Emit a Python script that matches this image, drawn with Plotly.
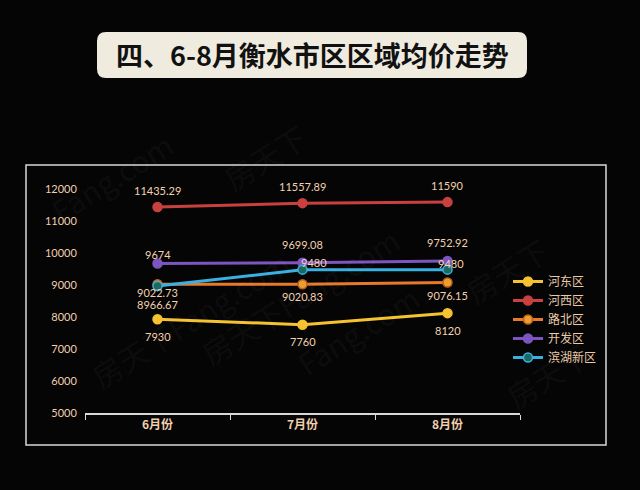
import plotly.graph_objects as go

months = ["6月份", "7月份", "8月份"]
series_names = ["河东区", "河西区", "路北区", "开发区", "滨湖新区"]
hedong = [7930, 7760, 8120]
hexi = [11435.29, 11557.89, 11590]
lubei = [9022.73, 9020.83, 9076.15]
kaifa = [9674, 9699.08, 9752.92]
binhu = [8966.67, 9480, 9480]
label_texts = {
    "河东区": ["7930", "7760", "8120"],
    "河西区": ["11435.29", "11557.89", "11590"],
    "路北区": ["9022.73", "9020.83", "9076.15"],
    "开发区": ["9674", "9699.08", "9752.92"],
    "滨湖新区": ["8966.67", "9480", "9480"],
}
y_ticks = [5000, 6000, 7000, 8000, 9000, 10000, 11000, 12000]
y_tick_text = ["5000", "6000", "7000", "8000", "9000", "10000", "11000", "12000"]

values = [hedong, hexi, lubei, kaifa, binhu]
line_colors = ["#f6c230", "#c8413f", "#e8792a", "#7d55c0", "#39afe2"]
marker_fill = ["#f6c230", "#c8413f", "#e8a030", "#7d55c0", "#1d6a5c"]
marker_line = ["#f6c230", "#c8413f", "#c25e18", "#7d55c0", "#39afe2"]
# label offsets (pixels) per series/point: (xshift, yshift)
offsets = [
    [(0, -17), (0, -17), (0, -17)],
    [(0, 17), (0, 17), (0, 17)],
    [(0, -8), (0, -12), (0, -13)],
    [(0, 9), (0, 18), (0, 18)],
    [(0, -18), (11, 7), (3, 6)],
]

L, R, T, B = 85, 120, 189, 77
W, H = 640, 490
pw, ph = W - L - R, H - T - B


def px(x):
    return (x - L) / pw


def py(y):
    return (H - B - y) / ph


fig = go.Figure()
for i, name in enumerate(series_names):
    fig.add_trace(go.Scatter(
        x=months, y=values[i], name=name, mode="lines+markers",
        line=dict(color=line_colors[i], width=3),
        marker=dict(size=9, color=marker_fill[i], line=dict(color=marker_line[i], width=1.5)),
    ))

label_color = "#f2d2b0"
annotations = []
# faint watermark
for (wx, wy, t) in [(265, 112, "房天下"), (40, 120, "Fang.com"), (300, 215, "房天下Fang.com"),
                    (560, 225, "房天下"), (80, 400, "房天下Fang.com"), (430, 330, "Fang.com"),
                    (600, 420, "房天下")]:
    annotations.append(dict(
        x=px(wx), y=py(wy), xref="paper", yref="paper", text=t,
        showarrow=False, textangle=-32,
        font=dict(family="Noto Sans CJK SC", size=30, color="rgba(255,255,255,0.05)"),
    ))

for i, name in enumerate(series_names):
    for j, m in enumerate(months):
        dx, dy = offsets[i][j]
        annotations.append(dict(
            x=m, y=values[i][j], xref="x", yref="y", text=label_texts[name][j],
            showarrow=False, xshift=dx, yshift=dy,
            font=dict(family="Lato, Noto Sans", size=11, color=label_color),
        ))

annotations.append(dict(
    x=px(312), y=py(55), xref="paper", yref="paper", text="<b>四、6-8月衡水市区区域均价走势</b>",
    showarrow=False, xanchor="center", yanchor="middle",
    font=dict(family="Noto Sans CJK SC", size=27, color="#111111"),
))


def rounded_path(x0, y0, x1, y1, r):
    rx, ry = r / pw, r / ph
    a, b, c, d = px(x0), py(y0), px(x1), py(y1)
    return (f"M {a+rx},{b} L {c-rx},{b} Q {c},{b} {c},{b-ry} L {c},{d+ry} Q {c},{d} {c-rx},{d} "
            f"L {a+rx},{d} Q {a},{d} {a},{d+ry} L {a},{b-ry} Q {a},{b} {a+rx},{b} Z")


shapes = [
    dict(type="rect", xref="paper", yref="paper", x0=px(26), y0=py(165), x1=px(606), y1=py(445),
         line=dict(color="#d8d8d8", width=1.5), layer="below"),
    dict(type="path", xref="paper", yref="paper", path=rounded_path(97, 32, 527, 78, 9),
         fillcolor="#efebdf", line=dict(width=0)),
]

fig.update_layout(
    width=W, height=H,
    margin=dict(l=L, r=R, t=T, b=B),
    paper_bgcolor="#050505", plot_bgcolor="#050505",
    showlegend=True,
    legend=dict(x=px(508), y=py(267), xanchor="left", yanchor="top",
                font=dict(family="Noto Sans CJK SC", size=12, color="#e8c9a8"),
                bgcolor="rgba(0,0,0,0)", itemwidth=30, tracegroupgap=0),
    xaxis=dict(type="category", tickson="boundaries", showgrid=False, zeroline=False,
               showline=True, linecolor="#d8d8d8", linewidth=1.5,
               ticks="outside", ticklen=5, tickcolor="#d8d8d8",
               tickfont=dict(family="Noto Sans CJK SC", size=12, color="#f0d0ae", weight="bold"),
               range=[-0.5, 2.5]),
    yaxis=dict(range=[5000, 12000], tickvals=y_ticks, ticktext=y_tick_text,
               showgrid=False, zeroline=False,
               showline=False, ticks="outside", ticklen=5, tickcolor="rgba(0,0,0,0)",
               tickfont=dict(family="Lato, Noto Sans", size=11, color="#f0d0ae")),
    annotations=annotations,
    shapes=shapes,
)

fig.write_html("out.html", config={"displayModeBar": False},
               post_script="document.body.style.margin='0';document.body.style.background='#050505';")
